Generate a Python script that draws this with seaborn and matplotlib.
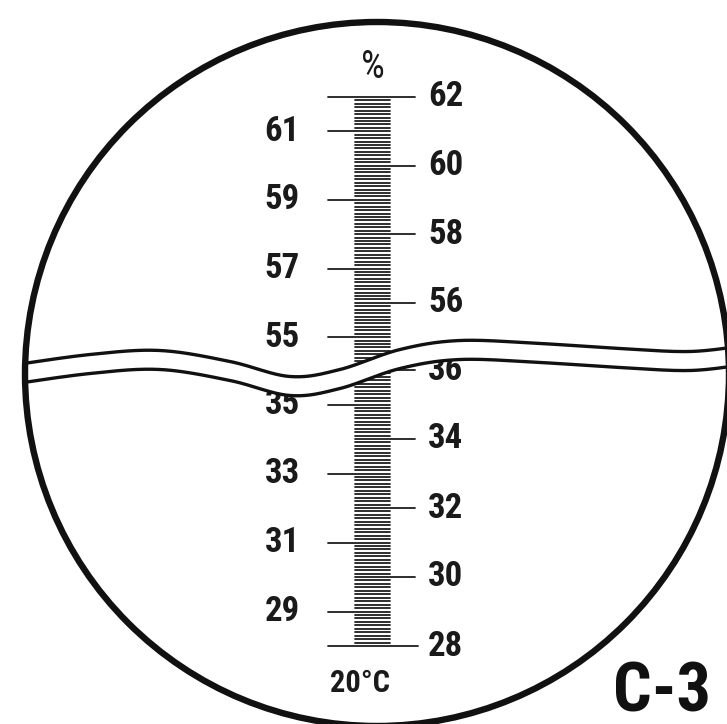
import numpy as np
import pandas as pd
import matplotlib
matplotlib.use('Agg')
import matplotlib.pyplot as plt
from matplotlib import font_manager
from matplotlib.patches import Circle
import seaborn as sns

# scale data (refractometer, % at 20 C)
upper_major = [62, 61, 60, 59, 58, 57, 56, 55]
lower_major = [36, 35, 34, 33, 32, 31, 30, 29, 28]
upper_range = (54.0, 62.0)
lower_range = (28.0, 37.0)
minor_step = 0.1
unit_label = '%'
temp_label = '20°C'
model_label = 'C-3'

# pixel layout of the two scale pieces
UP_TOP_Y, UP_PX = 97, 34.3      # y of 62, px per 1 %
LO_BOT_Y, LO_PX = 646, 34.5     # y of 28, px per 1 %


def y_upper(v):
    return UP_TOP_Y + (62 - np.asarray(v)) * UP_PX


def y_lower(v):
    return LO_BOT_Y - (np.asarray(v) - 28) * LO_PX


def catmull(pts, n=40):
    P = np.array(pts, float)
    P = np.vstack([P[0], P, P[-1]])
    out = []
    t = np.linspace(0, 1, n, endpoint=False)[:, None]
    for i in range(1, len(P) - 2):
        p0, p1, p2, p3 = P[i - 1], P[i], P[i + 1], P[i + 2]
        seg = 0.5 * ((2 * p1) + (-p0 + p2) * t + (2 * p0 - 5 * p1 + 4 * p2 - p3) * t ** 2
                     + (-p0 + 3 * p1 - 3 * p2 + p3) * t ** 3)
        out.append(seg)
    out.append(P[-2][None])
    return np.vstack(out)


sns.set_theme(style='white')
names = {f.name for f in font_manager.fontManager.ttflist}
fam = 'DejaVu Sans'
for cand in ['Liberation Sans Narrow', 'Roboto Condensed', 'Liberation Sans']:
    if cand in names:
        fam = cand
        break
plt.rcParams['font.family'] = [fam, 'DejaVu Sans']

fig = plt.figure(figsize=(7.27, 7.24), dpi=100)
ax = fig.add_axes([0, 0, 1, 1])

# wavy break band
band = catmull([(10, 375), (90, 364), (160, 360), (230, 371), (290, 386), (340, 379),
                (400, 359), (460, 350), (540, 353), (620, 358), (690, 361), (745, 355)])
bx, by = band[:, 0], band[:, 1]
half = 9.5
cut_y = np.interp(372, bx, by)

# build tick segments
rows = []
tid = 0
for v in np.round(np.arange(upper_range[0], upper_range[1] + 1e-9, minor_step), 1):
    y = float(y_upper(v))
    if y > cut_y:
        continue
    x0, x1 = 355, 390
    if abs(v - round(v)) < 1e-6:
        x0, x1 = (328, 390) if int(round(v)) % 2 else (355, 415)
        if int(round(v)) == 62:
            x0, x1 = 328, 415
    rows += [(tid, x0, y), (tid, x1, y)]
    tid += 1
for v in np.round(np.arange(lower_range[0], lower_range[1] + 1e-9, minor_step), 1):
    y = float(y_lower(v))
    if y < cut_y:
        continue
    x0, x1 = 355, 390
    if abs(v - round(v)) < 1e-6:
        x0, x1 = (328, 390) if int(round(v)) % 2 else (355, 415)
        if int(round(v)) == 28:
            x0, x1 = 328, 418
    rows += [(tid, x0, y), (tid, x1, y)]
    tid += 1
ticks = pd.DataFrame(rows, columns=['tick', 'x', 'y'])
sns.lineplot(data=ticks, x='x', y='y', units='tick', estimator=None, sort=False,
             color='#1e1e1e', lw=1.3, ax=ax, legend=False)
ax.set_xlim(0, 727)
ax.set_ylim(724, 0)
ax.axis('off')

# labels
lab = dict(fontsize=25, fontweight='bold', color='#1a1a1a', va='center')
for v in upper_major:
    if v % 2:
        ax.text(300, y_upper(v), str(v), ha='right', **lab)
    else:
        ax.text(428, y_upper(v), str(v), ha='left', **lab)
for v in lower_major:
    if v % 2:
        ax.text(300, y_lower(v), str(v), ha='right', **lab)
    else:
        ax.text(428, y_lower(v), str(v), ha='left', **lab)
ax.text(373, 68, unit_label, ha='center', va='center', fontsize=27, color='#1a1a1a')
ax.text(360, 683, temp_label, ha='center', va='center', fontsize=22,
        fontweight='bold', color='#1a1a1a')
ax.text(711, 693, model_label, ha='right', va='center', fontsize=49,
        fontweight='bold', color='#111111')

# circle and band drawn over the ticks
circ = Circle((377, 374), 352, fill=False, lw=4.6, color='#111111', zorder=6)
ax.add_patch(circ)
f = ax.fill_between(bx, by - half, by + half, color='white', lw=0, zorder=4)
l1, = ax.plot(bx, by - half, color='#111111', lw=2.4, zorder=5)
l2, = ax.plot(bx, by + half, color='#111111', lw=2.4, zorder=5)
clip = Circle((377, 374), 352, transform=ax.transData)
for a in (f, l1, l2):
    a.set_clip_path(clip)

fig.savefig('out.png', dpi=100, facecolor='white')
